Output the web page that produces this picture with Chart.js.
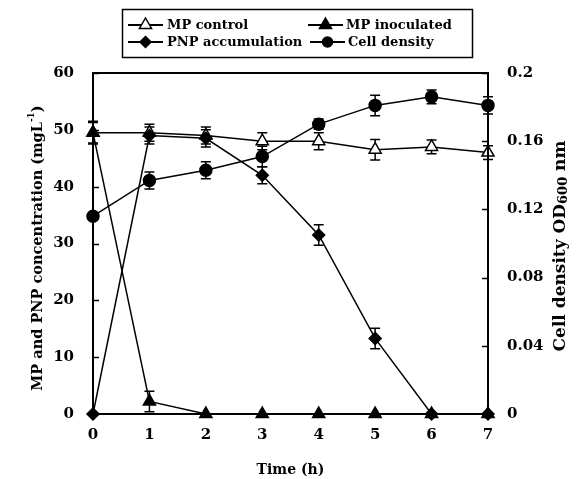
<!DOCTYPE html>
<html><head><meta charset="utf-8">
<script src="https://cdn.jsdelivr.net/npm/chart.js@4.4.1/dist/chart.umd.min.js"></script>
<style>html,body{margin:0;padding:0;background:#fff}#wrap{width:579px;height:479px;position:relative}</style>
</head><body><div id="wrap"><canvas id="c" width="579" height="479"></canvas></div>
<script>
const timeHours=[0,1,2,3,4,5,6,7];
const mpControl=[49.5,49.5,49,48,48,46.5,47,46];
const mpControlErr=[1.8,1.5,1.5,1.5,1.5,1.8,1.2,1.2];
const mpInoculated=[49.5,2.2,0,0,0,0,0,0];
const mpInoculatedErr=[2,1.8,0,0,0,0,0,0];
const pnpAccum=[0,49,48.5,42,31.5,13.3,0,0];
const pnpAccumErr=[0,1.5,1.5,1.5,1.8,1.8,0,0];
const cellDensity=[0.116,0.137,0.143,0.151,0.17,0.181,0.186,0.181];
const cellDensityErr=[0.002,0.005,0.005,0.006,0.003,0.006,0.004,0.005];
const leftTicks=[0,10,20,30,40,50,60];
const rightTicks=[0,0.04,0.08,0.12,0.16,0.2];
const rightTickLabels=['0','0.04','0.08','0.12','0.16','0.2'];
const xTicks=[0,1,2,3,4,5,6,7];
const seriesNames=['MP control','MP inoculated','PNP accumulation','Cell density'];

const FONT='"DejaVu Serif", serif';
const tickFont={family:FONT,size:15,weight:'bold'};

function pts(arr){return arr.map((v,i)=>({x:timeHours[i],y:v}));}

function drawMarker(ctx,style,x,y,r,fill){
  ctx.beginPath();
  if(style==='triangle'){
    ctx.moveTo(x,y-r);ctx.lineTo(x+0.866*r,y+0.5*r);ctx.lineTo(x-0.866*r,y+0.5*r);ctx.closePath();
  }else if(style==='rectRot'){
    ctx.moveTo(x,y-r);ctx.lineTo(x+r,y);ctx.lineTo(x,y+r);ctx.lineTo(x-r,y);ctx.closePath();
  }else{
    ctx.arc(x,y,r,0,Math.PI*2);
  }
  ctx.fillStyle=fill;ctx.fill();
  ctx.lineWidth=1.5;ctx.strokeStyle='#000';ctx.stroke();
}

const legendItems=[
  {name:seriesNames[0],style:'triangle',fill:'#fff',r:7,lx:128,tx:167,y:25},
  {name:seriesNames[1],style:'triangle',fill:'#000',r:7,lx:308,tx:346,y:25},
  {name:seriesNames[2],style:'rectRot',fill:'#000',r:5.5,lx:128,tx:167,y:42},
  {name:seriesNames[3],style:'circle',fill:'#000',r:5,lx:310,tx:348,y:42}
];

const decor={
  id:'decor',
  beforeDatasetsDraw(chart){
    const ctx=chart.ctx;
    ctx.save();
    ctx.strokeStyle='#000';ctx.lineWidth=1.5;
    chart.data.datasets.forEach((ds,di)=>{
      const meta=chart.getDatasetMeta(di);
      const sc=chart.scales[ds.yAxisID];
      meta.data.forEach((p,i)=>{
        const e=ds.errors[i];if(!e)return;
        const v=ds.data[i].y;
        const yt=sc.getPixelForValue(v+e),yb=sc.getPixelForValue(v-e);
        ctx.beginPath();
        ctx.moveTo(p.x,yt);ctx.lineTo(p.x,yb);
        ctx.moveTo(p.x-5,yt);ctx.lineTo(p.x+5,yt);
        ctx.moveTo(p.x-5,yb);ctx.lineTo(p.x+5,yb);
        ctx.stroke();
      });
    });
    ctx.restore();
  },
  afterDraw(chart){
    const ctx=chart.ctx,a=chart.chartArea;
    ctx.save();
    ctx.strokeStyle='#000';ctx.lineWidth=2;
    ctx.strokeRect(a.left,a.top,a.right-a.left,a.bottom-a.top);
    ctx.lineWidth=1.5;
    const yl=chart.scales.y,yr=chart.scales.y1;
    ctx.beginPath();
    leftTicks.forEach(v=>{const y=Math.round(yl.getPixelForValue(v))+0.5;ctx.moveTo(a.left,y);ctx.lineTo(a.left+6,y);});
    rightTicks.forEach(v=>{const y=Math.round(yr.getPixelForValue(v))+0.5;ctx.moveTo(a.right,y);ctx.lineTo(a.right-6,y);});
    ctx.stroke();
    // legend
    ctx.lineWidth=1.5;
    ctx.strokeRect(122.5,9.5,350,48);
    ctx.font='bold 13px '+FONT;ctx.fillStyle='#000';ctx.textBaseline='middle';ctx.textAlign='left';
    legendItems.forEach(it=>{
      ctx.beginPath();ctx.lineWidth=2;ctx.moveTo(it.lx,it.y);ctx.lineTo(it.lx+35,it.y);ctx.stroke();
      drawMarker(ctx,it.style,it.lx+17.5,it.y,it.r,it.fill);
      ctx.fillStyle='#000';ctx.fillText(it.name,it.tx,it.y+1);
    });
    // axis titles
    ctx.font='bold 14px '+FONT;ctx.textAlign='center';ctx.textBaseline='middle';
    ctx.fillText('Time (h)',(a.left+a.right)/2,470);
    function rich(cx,cy,segs){
      ctx.save();ctx.translate(cx,cy);ctx.rotate(-Math.PI/2);
      let total=0;
      segs.forEach(s=>{ctx.font='bold '+s.size+'px '+FONT;s.w=ctx.measureText(s.t).width;total+=s.w;});
      let x=-total/2;ctx.textAlign='left';ctx.textBaseline='middle';
      segs.forEach(s=>{ctx.font='bold '+s.size+'px '+FONT;ctx.fillText(s.t,x,s.dy);x+=s.w;});
      ctx.restore();
    }
    rich(38,248,[{t:'MP and PNP concentration (mgL',size:14.5,dy:0},{t:'-1',size:9,dy:-6},{t:')',size:14.5,dy:0}]);
    rich(561,246,[{t:'Cell density OD',size:17,dy:0},{t:'600',size:13,dy:3},{t:' nm',size:17,dy:0}]);
    ctx.restore();
  }
};

const common={borderColor:'#000',borderWidth:1.5,pointBorderColor:'#000',pointBorderWidth:1.5,tension:0,clip:false};
new Chart(document.getElementById('c'),{
  type:'line',
  data:{datasets:[
    Object.assign({label:seriesNames[3],data:pts(cellDensity),errors:cellDensityErr,yAxisID:'y1',pointStyle:'circle',pointRadius:6,pointBackgroundColor:'#000'},common),
    Object.assign({label:seriesNames[2],data:pts(pnpAccum),errors:pnpAccumErr,yAxisID:'y',pointStyle:'rectRot',pointRadius:6,pointBackgroundColor:'#000'},common),
    Object.assign({label:seriesNames[1],data:pts(mpInoculated),errors:mpInoculatedErr,yAxisID:'y',pointStyle:'triangle',pointRadius:7,pointBackgroundColor:'#000'},common),
    Object.assign({label:seriesNames[0],data:pts(mpControl),errors:mpControlErr,yAxisID:'y',pointStyle:'triangle',pointRadius:7,pointBackgroundColor:'#fff'},common)
  ]},
  options:{
    responsive:false,animation:false,events:[],
    layout:{padding:{top:73,left:0,right:0,bottom:0}},
    plugins:{legend:{display:false},tooltip:{enabled:false},title:{display:false}},
    scales:{
      x:{type:'linear',min:0,max:7,position:'bottom',
        grid:{display:false,drawTicks:false},border:{display:false},
        afterBuildTicks(s){s.ticks=xTicks.map(v=>({value:v}));},
        afterFit(s){s.height=65;},
        ticks:{font:tickFont,color:'#000',padding:12,autoSkip:false,maxRotation:0,callback:v=>String(v)}},
      y:{type:'linear',position:'left',min:0,max:60,
        grid:{display:false,drawTicks:false},border:{display:false},
        afterBuildTicks(s){s.ticks=leftTicks.map(v=>({value:v}));},
        afterFit(s){s.width=93;},
        ticks:{font:tickFont,color:'#000',padding:19,callback:v=>String(v)}},
      y1:{type:'linear',position:'right',min:0,max:0.2,
        grid:{display:false,drawTicks:false},border:{display:false},
        afterBuildTicks(s){s.ticks=rightTicks.map(v=>({value:v}));},
        afterFit(s){s.width=91;},
        ticks:{font:tickFont,color:'#000',padding:19,callback:(v,i)=>rightTickLabels[i]}}
    }
  },
  plugins:[decor]
});
</script></body></html>
